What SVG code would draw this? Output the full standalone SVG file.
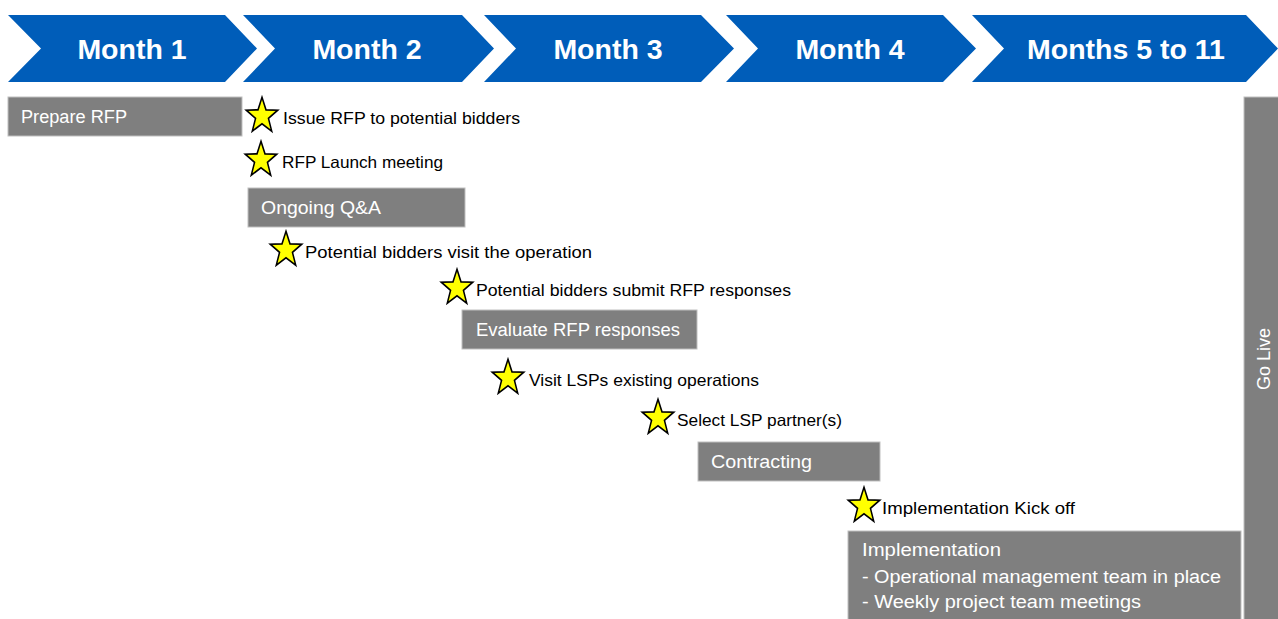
<svg xmlns="http://www.w3.org/2000/svg" width="1278" height="619" viewBox="0 0 1278 619">
<style>
.chev{fill:#005DB9}
.mon{font-family:"Liberation Sans",Arial,sans-serif;font-weight:bold;font-size:28.5px;fill:#ffffff;text-anchor:middle}
.box{fill:#7F7F7F;stroke:#BFBFBF;stroke-width:1}
.bt{font-family:"Liberation Sans",Arial,sans-serif;font-size:18px;fill:#ffffff}
.ms{font-family:"Liberation Sans",Arial,sans-serif;font-size:16.5px;fill:#000000}
.star{fill:#FFFF00;stroke:#000000;stroke-width:1.6;stroke-linejoin:miter}
</style>
<defs>
<path id="star" class="star" transform="scale(0.97,1.1)" d="M0,-17 L4.11,-5.66 L16.17,-5.25 L6.66,2.16 L9.99,13.75 L0,7 L-9.99,13.75 L-6.66,2.16 L-16.17,-5.25 L-4.11,-5.66 Z"/>
</defs>
<rect x="0" y="0" width="1278" height="619" fill="#ffffff"/>
<g id="month1"><path class="chev" d="M8,15 L225,15 L257,48.5 L225,82 L8,82 L41,48.5 Z"/><text class="mon" x="132" y="59">Month 1</text></g>
<g id="month2"><path class="chev" d="M243,15 L462,15 L494,48.5 L462,82 L243,82 L275,48.5 Z"/><text class="mon" x="367" y="59">Month 2</text></g>
<g id="month3"><path class="chev" d="M484,15 L701,15 L734,48.5 L701,82 L484,82 L516,48.5 Z"/><text class="mon" x="608" y="59">Month 3</text></g>
<g id="month4"><path class="chev" d="M726,15 L943,15 L976,48.5 L943,82 L726,82 L758,48.5 Z"/><text class="mon" x="850" y="59">Month 4</text></g>
<g id="month5to11"><path class="chev" d="M972,15 L1246,15 L1278,48.5 L1246,82 L972,82 L1004,48.5 Z"/><text class="mon" x="1126" y="59">Months 5 to 11</text></g>

<g id="prepare-rfp"><rect class="box" x="8" y="97" width="234" height="39"/><text class="bt" x="21" y="123" textLength="106" lengthAdjust="spacingAndGlyphs">Prepare RFP</text></g>
<g id="issue-rfp"><use href="#star" transform="translate(262,116)"/><text class="ms" x="283" y="124" textLength="237" lengthAdjust="spacingAndGlyphs">Issue RFP to potential bidders</text></g>
<g id="launch-meeting"><use href="#star" transform="translate(261,160)"/><text class="ms" x="282" y="168" textLength="161" lengthAdjust="spacingAndGlyphs">RFP Launch meeting</text></g>
<g id="ongoing-qa"><rect class="box" x="248" y="188" width="217" height="39"/><text class="bt" x="261" y="214" textLength="120" lengthAdjust="spacingAndGlyphs">Ongoing Q&amp;A</text></g>
<g id="visit-operation"><use href="#star" transform="translate(286,250)"/><text class="ms" x="305" y="258" textLength="287" lengthAdjust="spacingAndGlyphs">Potential bidders visit the operation</text></g>
<g id="submit-responses"><use href="#star" transform="translate(457,288)"/><text class="ms" x="476" y="296" textLength="315" lengthAdjust="spacingAndGlyphs">Potential bidders submit RFP responses</text></g>
<g id="evaluate"><rect class="box" x="462" y="310" width="235" height="39"/><text class="bt" x="476" y="336" textLength="204" lengthAdjust="spacingAndGlyphs">Evaluate RFP responses</text></g>
<g id="visit-lsps"><use href="#star" transform="translate(508,378)"/><text class="ms" x="529" y="386" textLength="230" lengthAdjust="spacingAndGlyphs">Visit LSPs existing operations</text></g>
<g id="select-lsp"><use href="#star" transform="translate(658,418)"/><text class="ms" x="677" y="426" textLength="165" lengthAdjust="spacingAndGlyphs">Select LSP partner(s)</text></g>
<g id="contracting"><rect class="box" x="698" y="442" width="182" height="39"/><text class="bt" x="711" y="468" textLength="101" lengthAdjust="spacingAndGlyphs">Contracting</text></g>
<g id="kick-off"><use href="#star" transform="translate(864,506)"/><text class="ms" x="882" y="514" textLength="193" lengthAdjust="spacingAndGlyphs">Implementation Kick off</text></g>
<g id="implementation"><rect class="box" x="848" y="531" width="393" height="90"/>
<text class="bt" x="862" y="556" textLength="139" lengthAdjust="spacingAndGlyphs">Implementation</text>
<text class="bt" x="862" y="583" textLength="359" lengthAdjust="spacingAndGlyphs">- Operational management team in place</text>
<text class="bt" x="862" y="608" textLength="279" lengthAdjust="spacingAndGlyphs">- Weekly project team meetings</text></g>
<g id="go-live"><rect class="box" x="1244" y="97" width="36" height="524"/><text class="bt" font-size="18" text-anchor="middle" transform="translate(1270,359) rotate(-90)" textLength="62" lengthAdjust="spacingAndGlyphs">Go Live</text></g>
<g id="connectors"></g>
</svg>
